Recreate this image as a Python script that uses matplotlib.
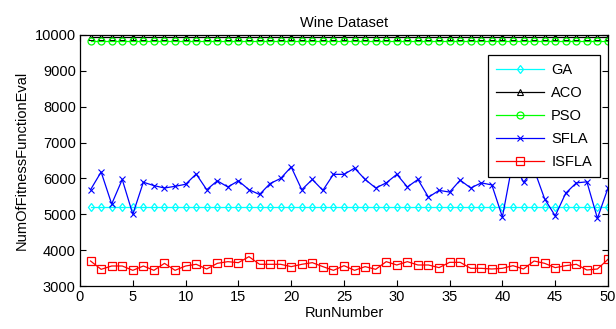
import matplotlib
matplotlib.use("Agg")
import matplotlib.pyplot as plt
import numpy as np

plt.rcParams['font.family'] = ['Liberation Sans', 'DejaVu Sans']

runs = list(range(1, 51))
ga = [5200] * 50
aco = [9950] * 50
pso = [9820] * 50
sfla = [5686, 6180, 5286, 5971, 5000, 5894, 5800, 5733, 5780, 5837,
        6123, 5686, 5933, 5762, 5933, 5686, 5552, 5857, 6000, 6320,
        5686, 5971, 5667, 6114, 6114, 6286, 5971, 5733, 5876, 6114,
        5762, 5971, 5476, 5667, 5619, 5952, 5733, 5876, 5819, 4924,
        6500, 5894, 6250, 5429, 4957, 5590, 5876, 5905, 4886, 5733]
isfla = [3697, 3465, 3558, 3558, 3437, 3558, 3437, 3632, 3437, 3558,
         3605, 3474, 3632, 3679, 3651, 3818, 3605, 3605, 3605, 3540,
         3605, 3651, 3540, 3437, 3567, 3437, 3540, 3465, 3679, 3586,
         3679, 3586, 3586, 3512, 3660, 3660, 3493, 3493, 3474, 3493,
         3567, 3474, 3697, 3632, 3512, 3567, 3605, 3446, 3474, 3744]

fig = plt.figure(figsize=(6.16, 3.29), dpi=100)
ax = fig.add_axes([80/616, 43/329, 528/616, 251/329])

lw = 0.9
ax.plot(runs, ga, color=(0, 1, 1), marker='d', ms=4.5, mfc='none', mew=0.9, lw=lw, label='GA')
ax.plot(runs, aco, color='black', marker='^', ms=4.5, mfc='none', mew=0.8, lw=lw, label='ACO')
ax.plot(runs, pso, color=(0, 1, 0), marker='o', ms=5, mfc='none', mew=0.9, lw=lw, label='PSO')
ax.plot(runs, sfla, color=(0, 0, 1), marker='x', ms=4.5, mew=0.8, lw=lw, label='SFLA')
ax.plot(runs, isfla, color=(1, 0, 0), marker='s', ms=6, mfc='none', mew=0.9, lw=lw, label='ISFLA')

ax.set_xlim(0, 50)
ax.set_ylim(3000, 10000)
ax.set_xticks(np.arange(0, 51, 5))
ax.set_yticks(np.arange(3000, 10001, 1000))
ax.tick_params(direction='in', top=True, right=True, labelsize=10.5, length=4, width=0.8, pad=3)
for s in ax.spines.values():
    s.set_linewidth(0.9)

ax.set_title('Wine Dataset', fontsize=10.5, pad=6)
ax.set_xlabel('RunNumber', fontsize=10.5, labelpad=1)
ax.set_ylabel('NumOfFitnessFunctionEval', fontsize=10.5, labelpad=4)

leg = ax.legend(loc='upper right', bbox_to_anchor=(520/528, 231/251), numpoints=1,
                fontsize=10.5, handlelength=3.3, handletextpad=0.5, labelspacing=0.62,
                borderpad=0.55, borderaxespad=0, fancybox=False, framealpha=1,
                edgecolor='black')
leg.get_frame().set_linewidth(0.9)

fig.savefig('out.png', dpi=100)
